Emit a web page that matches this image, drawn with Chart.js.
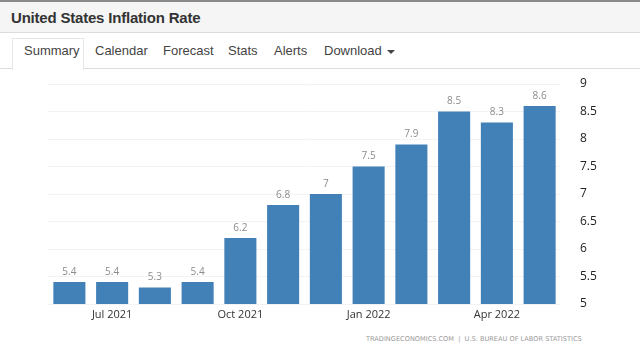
<!DOCTYPE html>
<html>
<head>
<meta charset="utf-8">
<script src="https://cdn.jsdelivr.net/npm/chart.js@4"></script>
<style>
  body { margin: 0; width: 640px; height: 360px; background: #fff; font-family: "Liberation Sans", Arial, sans-serif; overflow: hidden; position: relative; }
  .topbar { position: absolute; left: 0; top: 0; width: 640px; height: 33px; background: #f5f5f5; border-top: 2px solid #8a8a8a; border-bottom: 1px solid #dcdcdc; box-sizing: border-box; }
  .topbar h1 { margin: 0; position: absolute; left: 11px; top: 7px; font-size: 15px; font-weight: bold; color: #333; letter-spacing: -0.2px; }
  .tabs { position: absolute; left: 0; top: 34px; width: 640px; height: 35px; border-bottom: 1px solid #ddd; box-sizing: border-box; }
  .tabs span { position: absolute; top: 9px; font-size: 13px; color: #444; }
  .tabs .active { position: absolute; left: 12px; top: 4px; width: 72px; height: 32px; background: #fff; border: 1px solid #e6e6e6; border-bottom: none; box-sizing: border-box; }
  .caret { display: inline-block; width: 0; height: 0; margin-left: 5px; vertical-align: middle; border-top: 4px solid #444; border-left: 4px solid transparent; border-right: 4px solid transparent; }
  #wrap { position: absolute; left: 0; top: 70px; width: 640px; height: 260px; }
  .source { position: absolute; left: 366px; top: 335px; font-size: 6.6px; color: #9a9a9a; letter-spacing: 0; font-family: "DejaVu Sans", sans-serif; }
</style>
</head>
<body>
<div class="topbar"><h1>United States Inflation Rate</h1></div>
<div class="tabs">
  <div class="active"></div>
  <span style="left:24px">Summary</span>
  <span style="left:95px">Calendar</span>
  <span style="left:163px">Forecast</span>
  <span style="left:228px">Stats</span>
  <span style="left:274px">Alerts</span>
  <span style="left:324px">Download<i class="caret"></i></span>
</div>
<div id="wrap"><canvas id="inflation"></canvas></div>
<div class="source">TRADINGECONOMICS.COM &nbsp;|&nbsp; U.S. BUREAU OF LABOR STATISTICS</div>
<script>
const months = ['Jun 2021', 'Jul 2021', 'Aug 2021', 'Sep 2021', 'Oct 2021', 'Nov 2021',
  'Dec 2021', 'Jan 2022', 'Feb 2022', 'Mar 2022', 'Apr 2022', 'May 2022'];
const inflation = [5.4, 5.4, 5.3, 5.4, 6.2, 6.8, 7, 7.5, 7.9, 8.5, 8.3, 8.6];
const shownMonths = ['Jul 2021', 'Oct 2021', 'Jan 2022', 'Apr 2022'];
const yTicks = [5, 5.5, 6, 6.5, 7, 7.5, 8, 8.5, 9];

// value labels over each bar
const barLabels = {
  id: 'barLabels',
  afterDatasetsDraw(chart) {
    const ctx = chart.ctx;
    const meta = chart.getDatasetMeta(0);
    ctx.save();
    ctx.font = '10px "Open Sans", sans-serif';
    ctx.fillStyle = '#8c8c8c';
    ctx.textAlign = 'center';
    ctx.textBaseline = 'middle';
    meta.data.forEach((bar, i) => {
      ctx.fillText(String(inflation[i]), bar.x, bar.y - 10);
    });
    ctx.restore();
  }
};

const canvas = document.getElementById('inflation');
new Chart(canvas.getContext('2d'), {
  type: 'bar',
  data: {
    labels: months,
    datasets: [{
      data: inflation,
      backgroundColor: '#4281b7',
      barPercentage: 0.75,
      categoryPercentage: 1
    }]
  },
  options: {
    responsive: true,
    maintainAspectRatio: false,
    animation: false,
    layout: { padding: { left: 48, top: 14, right: 0, bottom: 0 } },
    plugins: { legend: { display: false }, tooltip: { enabled: false } },
    scales: {
      x: {
        grid: { display: false },
        border: { display: false },
        afterFit: (s) => { s.height = 26; },
        ticks: {
          autoSkip: false,
          maxRotation: 0,
          padding: -4,
          color: '#333',
          font: { family: '"Open Sans", sans-serif', size: 11 },
          callback: (v, i) => shownMonths.includes(months[i]) ? months[i] : ''
        }
      },
      y: {
        position: 'right',
        min: 5,
        max: 9,
        afterFit: (s) => { s.width = 79; },
        afterBuildTicks: (s) => { s.ticks = yTicks.map(v => ({ value: v })); },
        grid: { color: '#f3f3f3', tickColor: 'rgba(0,0,0,0)', tickLength: 16 },
        border: { display: false },
        ticks: {
          padding: 3,
          color: '#222',
          font: { family: '"Open Sans", sans-serif', size: 12 },
          callback: (v) => String(v)
        }
      }
    }
  },
  plugins: [barLabels]
});
</script>
</body>
</html>
